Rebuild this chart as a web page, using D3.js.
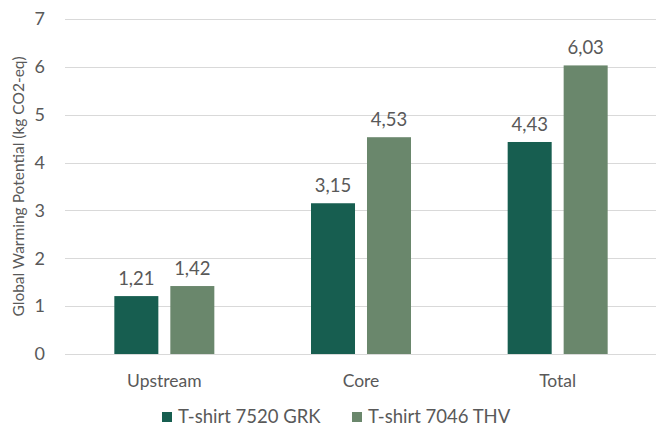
<!DOCTYPE html>
<html>
<head>
<meta charset="utf-8">
<script src="https://cdn.jsdelivr.net/npm/d3@7"></script>
<style>
  body { margin: 0; background: #fff; }
  svg text { font-family: Lato, "Open Sans", sans-serif; fill: #595959; }
</style>
</head>
<body>
<div id="chart"></div>
<script>
var categories = ["Upstream", "Core", "Total"];
var seriesNames = ["T-shirt 7520 GRK", "T-shirt 7046 THV"];
var grkValues = [1.21, 3.15, 4.43];
var thvValues = [1.42, 4.53, 6.03];
var yTicks = [0, 1, 2, 3, 4, 5, 6, 7];
var colors = ["#175e50", "#6a876c"];

var width = 660, height = 431;
var margin = { top: 19, right: 4, bottom: 77, left: 66 };

var svg = d3.select("#chart").append("svg")
    .attr("width", width)
    .attr("height", height);

var x0 = d3.scaleBand()
    .domain(categories)
    .range([margin.left, width - margin.right]);

var x1 = d3.scaleBand()
    .domain(seriesNames)
    .range([x0.bandwidth() / 2 - 50, x0.bandwidth() / 2 + 50])
    .paddingInner(0.214);

var y = d3.scaleLinear()
    .domain([0, 7])
    .range([height - margin.bottom, margin.top]);

var fmt = function(v) { return d3.format(".2f")(v).replace(".", ","); };

// gridlines
svg.append("g")
    .selectAll("line")
    .data(yTicks)
    .join("line")
    .attr("x1", margin.left - 1)
    .attr("x2", width - margin.right)
    .attr("y1", function(d) { return Math.round(y(d)) + 0.5; })
    .attr("y2", function(d) { return Math.round(y(d)) + 0.5; })
    .style("stroke", "#d9d9d9")
    .style("stroke-width", 1);

// y axis labels
var yAxis = d3.axisLeft(y).tickValues(yTicks).tickFormat(d3.format("d")).tickSize(0).tickPadding(0);
var gy = svg.append("g")
    .attr("transform", "translate(" + (margin.left - 21) + ",0)")
    .call(yAxis);
gy.select(".domain").remove();
gy.selectAll("text")
    .style("font-size", "18px")
    .style("fill", "#595959")
    .style("font-family", "Lato, sans-serif");

// x axis labels
var xAxis = d3.axisBottom(x0).tickSize(0).tickPadding(0);
var gx = svg.append("g")
    .attr("transform", "translate(0," + (y(0) + 21) + ")")
    .call(xAxis);
gx.select(".domain").remove();
gx.selectAll("text")
    .style("font-size", "17.5px")
    .style("fill", "#595959")
    .style("font-family", "Lato, sans-serif");

// axis title
svg.append("text")
    .attr("transform", "translate(24," + ((y(0) + y(7)) / 2) + ") rotate(-90)")
    .attr("text-anchor", "middle")
    .style("font-size", "15.5px")
    .text("Global Warming Potential (kg CO2-eq)");

var series = [grkValues, thvValues];

series.forEach(function(vals, i) {
    var g = svg.append("g");
    g.selectAll("rect")
        .data(vals)
        .join("rect")
        .attr("x", function(d, j) { return x0(categories[j]) + x1(seriesNames[i]); })
        .attr("y", function(d) { return y(d); })
        .attr("width", x1.bandwidth())
        .attr("height", function(d) { return y(0) - y(d); })
        .style("fill", colors[i]);
    g.selectAll("text")
        .data(vals)
        .join("text")
        .attr("x", function(d, j) { return x0(categories[j]) + x1(seriesNames[i]) + x1.bandwidth() / 2; })
        .attr("y", function(d) { return y(d) - 11; })
        .attr("text-anchor", "middle")
        .style("font-size", "18.5px")
        .text(fmt);
});

// legend
var legend = svg.append("g");
var legendX = [162, 352];
seriesNames.forEach(function(name, i) {
    legend.append("rect")
        .attr("x", legendX[i])
        .attr("y", 412)
        .attr("width", 10)
        .attr("height", 10)
        .style("fill", colors[i]);
    legend.append("text")
        .attr("x", legendX[i] + 16)
        .attr("y", 423)
        .style("font-size", "18.5px")
        .text(name);
});
</script>
</body>
</html>
